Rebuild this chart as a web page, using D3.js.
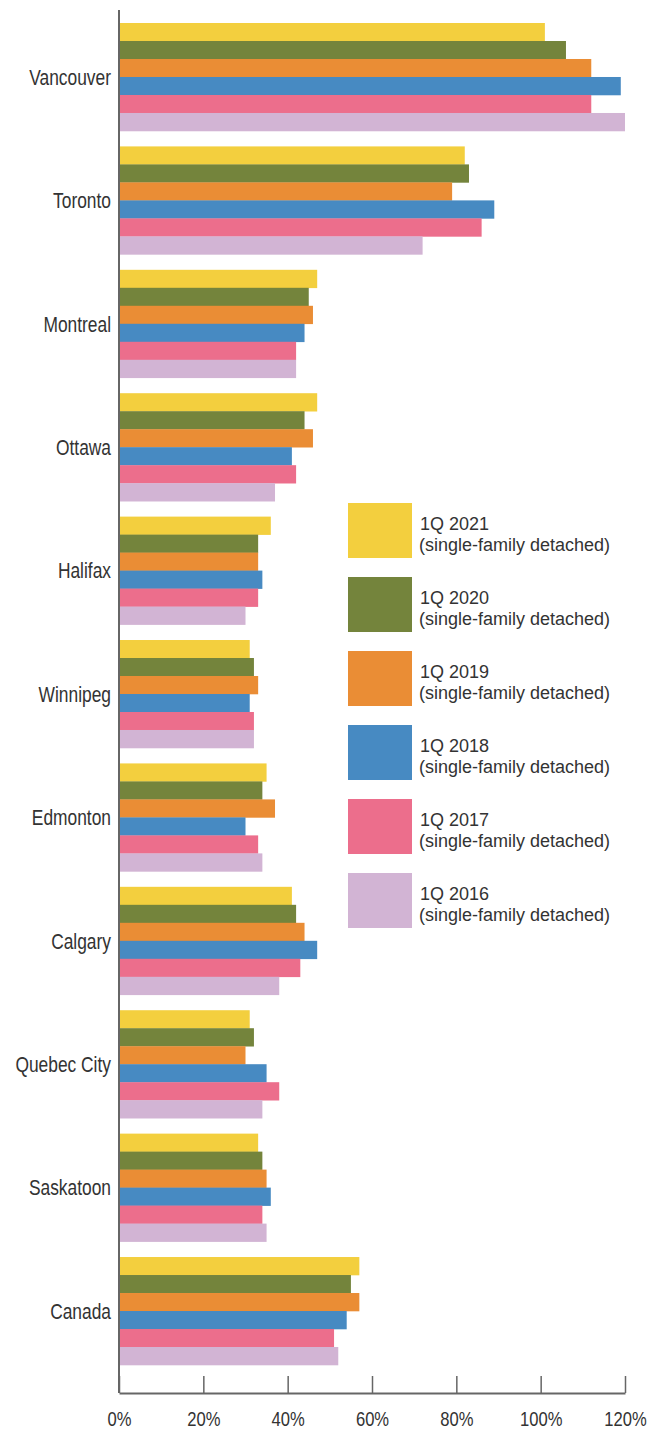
<!DOCTYPE html>
<meta charset="utf-8">
<head>
  <script src="https://d3js.org/d3.v7.min.js"></script>
  <style>
    body { margin: 0; background: #fff; }
    .lbl { font-family: "Liberation Sans", Arial, sans-serif; fill: #333; }
    .leg { font-family: "Liberation Sans", Arial, sans-serif; fill: #333; font-size: 18px; }
  </style>
</head>
<body>
<svg width="653" height="1431"></svg>
<script>
// cities top to bottom
var cities = ["Vancouver", "Toronto", "Montreal", "Ottawa", "Halifax", "Winnipeg",
  "Edmonton", "Calgary", "Quebec City", "Saskatoon", "Canada"];
var series = ["1Q 2021", "1Q 2020", "1Q 2019", "1Q 2018", "1Q 2017", "1Q 2016"];
var colors = ["#F3CF3E", "#74843C", "#EA8D35", "#478AC2", "#EC6E8C", "#D2B4D4"];
// values in %, one array per year, in city order
var q2021 = [101, 82, 47, 47, 36, 31, 35, 41, 31, 33, 57];
var q2020 = [106, 83, 45, 44, 33, 32, 34, 42, 32, 34, 55];
var q2019 = [112, 79, 46, 46, 33, 33, 37, 44, 30, 35, 57];
var q2018 = [119, 89, 44, 41, 34, 31, 30, 47, 35, 36, 54];
var q2017 = [112, 86, 42, 42, 33, 32, 33, 43, 38, 34, 51];
var q2016 = [120, 72, 42, 37, 30, 32, 34, 38, 34, 35, 52];
var ticks = [0, 20, 40, 60, 80, 100, 120];

var values = [q2021, q2020, q2019, q2018, q2017, q2016];
var svg = d3.select("svg");
var narrow = 0.79; // squeeze to look like a condensed face

var x = d3.scaleLinear().domain([0, 120]).range([119, 625]);
var y = d3.scaleBand().domain(cities).range([23, 1365]).paddingInner(0.125).paddingOuter(0);
var ys = d3.scaleBand().domain(series).range([0, y.bandwidth()]);

// bars
var g = svg.append("g");
cities.forEach(function(c, i) {
  series.forEach(function(s, j) {
    g.append("rect")
      .attr("x", x(0))
      .attr("y", y(c) + ys(s))
      .attr("width", x(values[j][i]) - x(0))
      .attr("height", ys.bandwidth() + 0.3)
      .attr("fill", colors[j]);
  });
});

// city labels
svg.append("g").selectAll("text").data(cities).enter().append("text")
  .attr("class", "lbl")
  .attr("transform", function(d) {
    return "translate(111," + (y(d) + y.bandwidth() / 2) + ") scale(" + narrow + ",1)";
  })
  .attr("text-anchor", "end")
  .attr("dy", "0.35em")
  .style("font-size", "22px")
  .text(function(d) { return d; });

// axes
var axisY = 1393;
svg.append("line").attr("x1", 119).attr("x2", 119).attr("y1", 10).attr("y2", axisY)
  .attr("stroke", "#666").attr("stroke-width", 2);
var xa = svg.append("g").attr("transform", "translate(0," + axisY + ")")
  .call(d3.axisBottom(x).tickValues(ticks).tickSizeInner(-17).tickSizeOuter(0)
    .tickFormat(function(d) { return d + "%"; }));
xa.select(".domain").attr("stroke", "#666").attr("stroke-width", 2);
xa.selectAll(".tick line").attr("stroke", "#666").attr("stroke-width", 1.5);
xa.selectAll(".tick text").attr("class", "lbl").attr("y", 26)
  .attr("dy", "0.35em").attr("transform", "scale(" + narrow + ",1)")
  .style("font-size", "21px").attr("fill", "#333");

// legend
var leg = svg.append("g");
series.forEach(function(s, j) {
  var ly = 503 + j * 74;
  leg.append("rect").attr("x", 348).attr("y", ly).attr("width", 64).attr("height", 55)
    .attr("fill", colors[j]);
  leg.append("text").attr("class", "leg").attr("x", 420).attr("y", ly + 27).text(s);
  leg.append("text").attr("class", "leg").attr("x", 419).attr("y", ly + 47.5)
    .text("(single-family detached)");
});
</script>
</body>
